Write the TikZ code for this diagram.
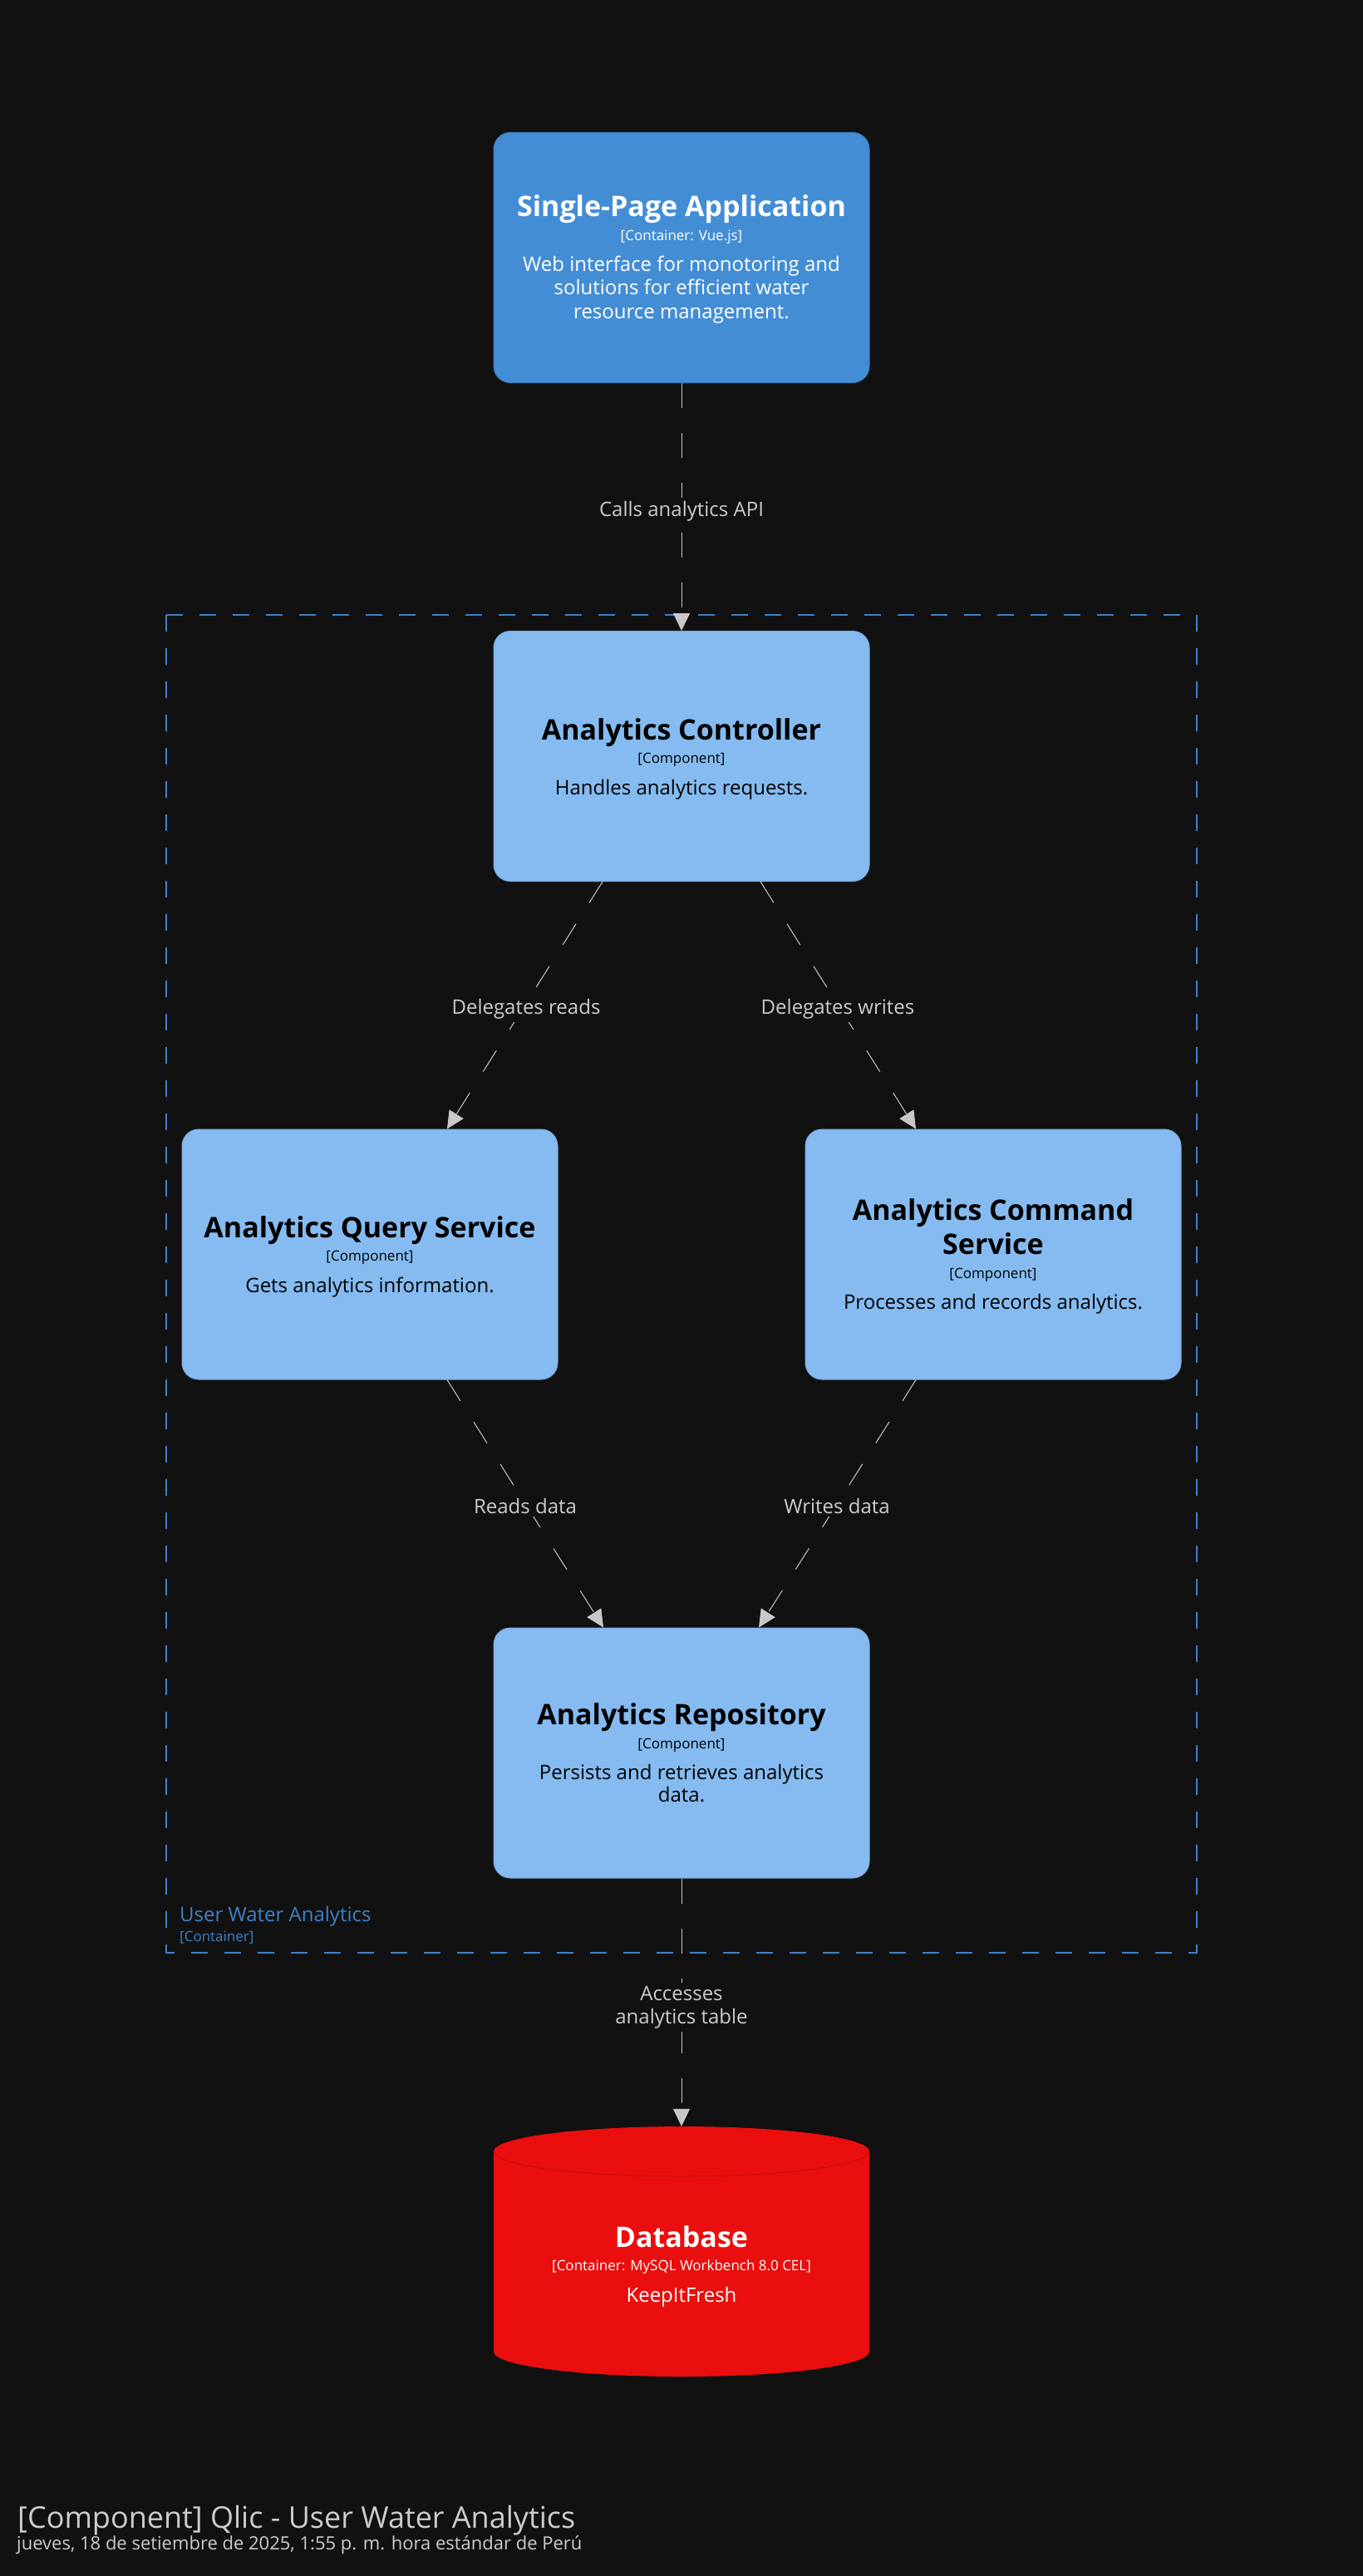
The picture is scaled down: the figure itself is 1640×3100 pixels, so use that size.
\documentclass[tikz,border=0pt]{standalone}
\usepackage{fontspec}
\setmainfont{Open Sans}
\usetikzlibrary{arrows.meta,calc}
\definecolor{bg}{HTML}{111111}
\definecolor{spablue}{HTML}{438DD5}
\definecolor{spaborder}{HTML}{3C7FC0}
\definecolor{compblue}{HTML}{85BBF0}
\definecolor{compborder}{HTML}{78A8D8}
\definecolor{dbred}{HTML}{EA0E0E}
\definecolor{dbborder}{HTML}{C70C0C}
\definecolor{bndblue}{HTML}{3F80C8}
\definecolor{relgrey}{HTML}{C8C8C8}
\definecolor{lblgrey}{HTML}{CCCCCC}
\begin{document}
\begin{tikzpicture}[x=1pt,y=-1pt,
  box/.style={rounded corners=20pt, minimum width=452pt, minimum height=301pt, line width=1pt, inner sep=0pt},
  spabox/.style={box, fill=spablue, draw=spaborder},
  compbox/.style={box, fill=compblue, draw=compborder},
  ttl/.style={anchor=base, inner sep=0pt, font=\fontsize{34}{40}\selectfont\bfseries},
  ster/.style={anchor=base, inner sep=0pt, font=\fontsize{17}{20}\selectfont},
  desc/.style={anchor=base, inner sep=0pt, font=\fontsize{24}{28}\selectfont},
  rel/.style={draw=relgrey, line width=1pt, dash pattern=on 30pt off 30pt, -{Triangle[length=21pt,width=20pt,fill=relgrey]}},
  lbl/.style={anchor=base, font=\fontsize{24}{28}\selectfont, text=lblgrey, fill=bg, inner xsep=3pt, inner ysep=4pt},
  bnd/.style={draw=bndblue, line width=1.5pt, dash pattern=on 20pt off 20pt}
]
\fill[bg] (0,0) rectangle (1640,3100);
\useasboundingbox (0,0) rectangle (1640,3100);

% boundary
\draw[bnd] (200,740) -- (1440,740) -- (1440,2350) -- (200,2350) -- cycle;
\node[anchor=base west, inner sep=0pt, text=bndblue, font=\fontsize{24}{28}\selectfont] (bndtitle) at (216,2312) {User Water Analytics};
\node[anchor=base west, inner sep=0pt, text=bndblue, font=\fontsize{17}{20}\selectfont] (bndster) at (216,2336) {[Container]};

% SPA
\node[spabox] (spa) at (820,310) {};
\node[ttl, text=white] (spat) at (820,260) {Single-Page Application};
\node[ster, text=white] (spas) at (820,289) {[Container: Vue.js]};
\node[desc, text=white] (spad1) at (820,326) {Web interface for monotoring and};
\node[desc, text=white] (spad2) at (820,354.5) {solutions for efficient water};
\node[desc, text=white] (spad3) at (820,383) {resource management.};

% Controller
\node[compbox] (ctrl) at (820,910) {};
\node[ttl] (ctrlt) at (820,890) {Analytics Controller};
\node[ster] (ctrls) at (820,918) {[Component]};
\node[desc] (ctrld) at (820,956) {Handles analytics requests.};

% Query service
\node[compbox] (qry) at (445,1509.5) {};
\node[ttl] (qryt) at (445,1489) {Analytics Query Service};
\node[ster] (qrys) at (445,1517) {[Component]};
\node[desc] (qryd) at (445,1555) {Gets analytics information.};

% Command service
\node[compbox] (cmd) at (1195,1509.5) {};
\node[ttl] (cmdt1) at (1195,1468) {Analytics Command};
\node[ttl] (cmdt2) at (1195,1509) {Service};
\node[ster] (cmds) at (1195,1538) {[Component]};
\node[desc] (cmdd) at (1195,1575) {Processes and records analytics.};

% Repository
\node[compbox] (repo) at (820,2109.5) {};
\node[ttl] (repot) at (820,2075) {Analytics Repository};
\node[ster] (repos) at (820,2104) {[Component]};
\node[desc] (repod1) at (820,2141) {Persists and retrieves analytics};
\node[desc] (repod2) at (820,2168) {data.};

% Database
\fill[dbred] (594,2589) -- (594,2830) arc[start angle=180,end angle=360,x radius=226pt,y radius=30pt]
  -- (1046,2589) arc[start angle=0,end angle=180,x radius=226pt,y radius=30pt] -- cycle;
\draw[dbborder, line width=1pt] (594,2589) arc[start angle=180,end angle=360,x radius=226pt,y radius=30pt];
\node[minimum width=452pt, minimum height=301pt, inner sep=0pt] (db) at (820,2709.5) {};
\node[ttl, text=white] (dbt) at (820,2704) {Database};
\node[ster, text=white] (dbs) at (820,2732) {[Container: MySQL Workbench 8.0 CEL]};
\node[desc, text=white] (dbd) at (820,2770) {KeepItFresh};

% relations
\draw[rel] (spa.south) -- (ctrl.north);
\draw[rel] ([xshift=-95pt]ctrl.south) -- ([xshift=93pt]qry.north);
\draw[rel] ([xshift=95pt]ctrl.south) -- ([xshift=-93pt]cmd.north);
\draw[rel] ([xshift=93pt]qry.south) -- ([xshift=-94pt]repo.north);
\draw[rel] ([xshift=-93pt]cmd.south) -- ([xshift=93pt]repo.north);
\draw[rel] (repo.south) -- (db.north);

% labels
\node[lbl] (l1) at (820,621) {Calls analytics API};
\node[lbl] (l2) at (633,1220) {Delegates reads};
\node[lbl] (l3) at (1008,1220) {Delegates writes};
\node[lbl] (l4) at (632,1821) {Reads data};
\node[lbl] (l5) at (1007,1821) {Writes data};
\node[lbl] (l6a) at (820,2407) {Accesses};
\node[lbl] (l6b) at (820,2435) {analytics table};

% title
\node[anchor=base west, inner sep=0pt, text=lblgrey, font=\fontsize{36}{42}\selectfont] (title) at (21,3042) {[Component] Qlic - User Water Analytics};
\node[anchor=base west, inner sep=0pt, text=lblgrey, font=\fontsize{22}{26}\selectfont] (date) at (20,3068) {jueves, 18 de setiembre de 2025, 1:55 p. m. hora estándar de Perú};
\end{tikzpicture}
\end{document}
